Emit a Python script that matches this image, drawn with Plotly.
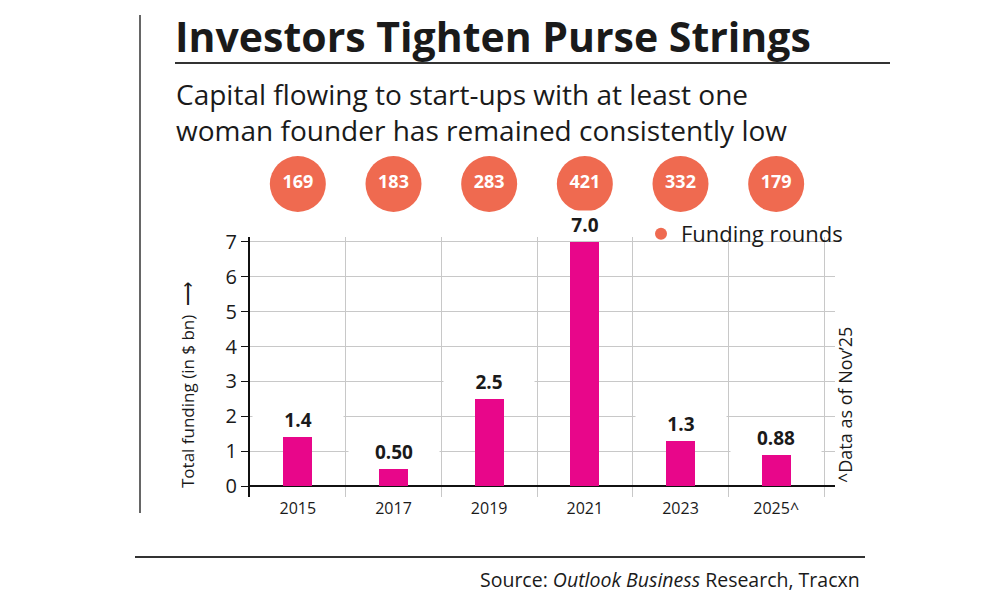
import plotly.graph_objects as go

years = ["2015", "2017", "2019", "2021", "2023", "2025^"]
funding = [1.4, 0.50, 2.5, 7.0, 1.3, 0.88]
funding_labels = ["1.4", "0.50", "2.5", "7.0", "1.3", "0.88"]
rounds = [169, 183, 283, 421, 332, 179]
y_ticks = [0, 1, 2, 3, 4, 5, 6, 7]

# page body margin offset (screen px -> figure px)
S = 8
W, H = 992, 599
ML, MR, MT, MB = 242, 165, 142, 110
PW, PH = W - ML - MR, H - MT - MB


def X(px):
    return (px - S - ML) / PW


def Y(py):
    return (H - MB - (py - S)) / PH


BAR = "#E8068A"
CORAL = "#EF6A50"
INK = "#1a1a1a"
FONT = "Open Sans"

xpos = list(range(len(years)))

fig = go.Figure()
fig.add_trace(go.Bar(
    x=xpos, y=funding, width=0.3, marker=dict(color=BAR, line=dict(width=0)),
    showlegend=False, hoverinfo="skip", xaxis="x", yaxis="y",
))
fig.add_trace(go.Scatter(
    x=xpos, y=[0] * len(rounds), mode="markers+text",
    marker=dict(size=56, color=CORAL),
    text=[str(r) for r in rounds], textposition="middle center",
    textfont=dict(family=FONT, size=18, color="white", weight="bold"),
    name="Funding rounds", showlegend=True, cliponaxis=False,
    xaxis="x2", yaxis="y2",
))

annotations = []
for i, (v, lab) in enumerate(zip(funding, funding_labels)):
    annotations.append(dict(
        x=i, y=v, xref="x", yref="y", text=lab, showarrow=False,
        yanchor="bottom", yshift=2, width=88, height=26,
        bgcolor="white",
        font=dict(family=FONT, size=19, color=INK, weight="bold"),
    ))

annotations += [
    dict(x=X(174), y=Y(7), xref="paper", yref="paper", xanchor="left", yanchor="top",
         text="<b>Investors Tighten Purse Strings</b>", showarrow=False, borderpad=0,
         font=dict(family=FONT, size=41, color=INK)),
    dict(x=X(174), y=Y(112), xref="paper", yref="paper", xanchor="left", yanchor="middle",
         text="Capital flowing to start-ups with at least one<br>woman founder has remained consistently low",
         showarrow=False, align="left",
         font=dict(family=FONT, size=28, color=INK)),
    dict(x=X(187), y=Y(385), xref="paper", yref="paper", xanchor="center", yanchor="middle",
         text="Total funding (in $ bn)  \u27f6", textangle=-90, showarrow=False,
         font=dict(family=FONT, size=17, color=INK)),
    dict(x=X(845), y=Y(405), xref="paper", yref="paper", xanchor="center", yanchor="middle",
         text="^Data as of Nov\u201925", textangle=-90, showarrow=False,
         font=dict(family=FONT, size=18, color=INK)),
    dict(x=X(862), y=Y(579), xref="paper", yref="paper", xanchor="right", yanchor="middle",
         text="Source: <i>Outlook Business</i> Research, Tracxn", showarrow=False,
         font=dict(family=FONT, size=19.5, color=INK)),
]

shapes = [
    dict(type="line", xref="paper", yref="paper", x0=X(175), x1=X(890), y0=Y(63), y1=Y(63),
         line=dict(color="#333333", width=2)),
    dict(type="line", xref="paper", yref="paper", x0=X(140), x1=X(140), y0=Y(15), y1=Y(513),
         line=dict(color="#333333", width=1.5)),
    dict(type="line", xref="paper", yref="paper", x0=X(135), x1=X(865), y0=Y(557), y1=Y(557),
         line=dict(color="#333333", width=2)),
]

fig.update_layout(
    width=W, height=H,
    margin=dict(l=ML, r=MR, t=MT, b=MB, pad=0),
    paper_bgcolor="white", plot_bgcolor="white",
    bargap=0,
    font=dict(family=FONT, color=INK),
    xaxis=dict(
        domain=[0, 1], anchor="y",
        range=[-0.5, 5.615], tickmode="array", tickvals=xpos, ticktext=years,
        showgrid=False, zeroline=False, showline=False, ticks="",
        tickfont=dict(family=FONT, size=16, color=INK),
        minor=dict(tick0=0.5, dtick=1, showgrid=True, gridcolor="#c8c8c8", gridwidth=1, ticks=""),
        fixedrange=True,
    ),
    yaxis=dict(
        domain=[0, Y(237)], anchor="x",
        range=[-0.315, 7.14], tickmode="array", tickvals=y_ticks,
        showgrid=True, gridcolor="#c8c8c8", gridwidth=1,
        zeroline=True, zerolinecolor="#111111", zerolinewidth=2,
        showline=True, linecolor="#111111", linewidth=2,
        ticks="outside", ticklen=7, tickcolor="#111111", tickwidth=1,
        tickfont=dict(family=FONT, size=20, color=INK),
        fixedrange=True,
    ),
    xaxis2=dict(domain=[0, 1], anchor="y2", matches="x", visible=False),
    yaxis2=dict(domain=[Y(212) - 0.005, Y(156) + 0.005], anchor="x2", range=[-1, 1], visible=False),
    legend=dict(
        x=X(641), y=Y(234), xanchor="left", yanchor="middle",
        bgcolor="rgba(0,0,0,0)", itemsizing="constant",
        font=dict(family=FONT, size=22, color=INK),
    ),
    annotations=annotations,
    shapes=shapes,
)

fig.write_html("out.html")
